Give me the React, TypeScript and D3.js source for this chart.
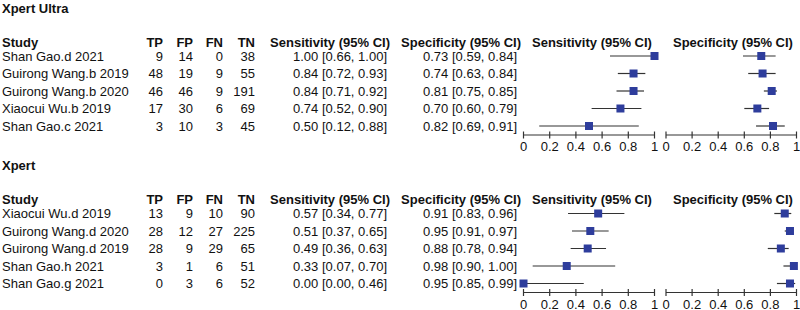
import React from "react";
import * as d3 from "d3";

// ---- Data: Xpert Ultra ----
const ultraStudies = ["Shan Gao.d 2021", "Guirong Wang.b 2019", "Guirong Wang.b 2020", "Xiaocui Wu.b 2019", "Shan Gao.c 2021"];
const ultraTP = [9, 48, 46, 17, 3];
const ultraFP = [14, 19, 46, 30, 10];
const ultraFN = [0, 9, 9, 6, 3];
const ultraTN = [38, 55, 191, 69, 45];
const ultraSens = [1.0, 0.84, 0.84, 0.74, 0.5];
const ultraSensLo = [0.66, 0.72, 0.71, 0.52, 0.12];
const ultraSensHi = [1.0, 0.93, 0.92, 0.9, 0.88];
const ultraSpec = [0.73, 0.74, 0.81, 0.7, 0.82];
const ultraSpecLo = [0.59, 0.63, 0.75, 0.6, 0.69];
const ultraSpecHi = [0.84, 0.84, 0.85, 0.79, 0.91];

// ---- Data: Xpert ----
const xpertStudies = ["Xiaocui Wu.d 2019", "Guirong Wang.d 2020", "Guirong Wang.d 2019", "Shan Gao.h 2021", "Shan Gao.g 2021"];
const xpertTP = [13, 28, 28, 3, 0];
const xpertFP = [9, 12, 9, 1, 3];
const xpertFN = [10, 27, 29, 6, 6];
const xpertTN = [90, 225, 65, 51, 52];
const xpertSens = [0.57, 0.51, 0.49, 0.33, 0.0];
const xpertSensLo = [0.34, 0.37, 0.36, 0.07, 0.0];
const xpertSensHi = [0.77, 0.65, 0.63, 0.7, 0.46];
const xpertSpec = [0.91, 0.95, 0.88, 0.98, 0.95];
const xpertSpecLo = [0.83, 0.91, 0.78, 0.9, 0.85];
const xpertSpecHi = [0.96, 0.97, 0.94, 1.0, 0.99];

const ticks = [0, 0.2, 0.4, 0.6, 0.8, 1];
const tickLabels = ["0", "0.2", "0.4", "0.6", "0.8", "1"];

const FONT = "'Liberation Sans', Arial, Helvetica, sans-serif";
const BLUE = "#2e3d9c";
const LINE = "#333333";

const sensX = d3.scaleLinear().domain([0, 1]).range([523.5, 654.5]);
const specX = d3.scaleLinear().domain([0, 1]).range([666, 796.5]);

const f2 = d3.format(".2f");

type Section = {
  title: string;
  studies: string[];
  tp: number[];
  fp: number[];
  fn: number[];
  tn: number[];
  sens: number[];
  sensLo: number[];
  sensHi: number[];
  spec: number[];
  specLo: number[];
  specHi: number[];
};

const sections: Section[] = [
  {
    title: "Xpert Ultra",
    studies: ultraStudies, tp: ultraTP, fp: ultraFP, fn: ultraFN, tn: ultraTN,
    sens: ultraSens, sensLo: ultraSensLo, sensHi: ultraSensHi,
    spec: ultraSpec, specLo: ultraSpecLo, specHi: ultraSpecHi,
  },
  {
    title: "Xpert",
    studies: xpertStudies, tp: xpertTP, fp: xpertFP, fn: xpertFN, tn: xpertTN,
    sens: xpertSens, sensLo: xpertSensLo, sensHi: xpertSensHi,
    spec: xpertSpec, specLo: xpertSpecLo, specHi: xpertSpecHi,
  },
];

const Axis = ({ x, y }: { x: d3.ScaleLinear<number, number>; y: number }) => (
  <g>
    <line x1={x(0)} x2={x(1)} y1={y} y2={y} stroke={LINE} strokeWidth={1.2} />
    {ticks.map((t, i) => (
      <g key={i}>
        <line x1={x(t)} x2={x(t)} y1={y - 3.5} y2={y + 3.5} stroke={LINE} strokeWidth={1.2} />
        <text x={x(t)} y={y + 16} textAnchor="middle" fontSize={13} fill="#111">
          {tickLabels[i]}
        </text>
      </g>
    ))}
  </g>
);

const SectionView = ({ s, oy }: { s: Section; oy: number }) => {
  const rowY = (i: number) => oy + 56 + i * 17.5;
  const base = 4.6;
  return (
    <g>
      <text x={2} y={oy + 12.5} fontWeight="bold" fontSize={13}>{s.title}</text>
      <g fontWeight="bold" fontSize={13}>
        <text x={2} y={oy + 46.5}>Study</text>
        <text x={163} y={oy + 46.5} textAnchor="end">TP</text>
        <text x={193} y={oy + 46.5} textAnchor="end">FP</text>
        <text x={223} y={oy + 46.5} textAnchor="end">FN</text>
        <text x={255} y={oy + 46.5} textAnchor="end">TN</text>
        <text x={390} y={oy + 46.5} textAnchor="end">Sensitivity (95% CI)</text>
        <text x={521} y={oy + 46.5} textAnchor="end">Specificity (95% CI)</text>
        <text x={532} y={oy + 46.5}>Sensitivity (95% CI)</text>
        <text x={673} y={oy + 46.5}>Specificity (95% CI)</text>
      </g>
      {s.studies.map((name, i) => {
        const y = rowY(i);
        return (
          <g key={name} fontSize={13}>
            <text x={2} y={y + base}>{name}</text>
            <text x={163} y={y + base} textAnchor="end">{s.tp[i]}</text>
            <text x={193} y={y + base} textAnchor="end">{s.fp[i]}</text>
            <text x={223} y={y + base} textAnchor="end">{s.fn[i]}</text>
            <text x={255} y={y + base} textAnchor="end">{s.tn[i]}</text>
            <text x={387} y={y + base} textAnchor="end">
              {`${f2(s.sens[i])} [${f2(s.sensLo[i])}, ${f2(s.sensHi[i])}]`}
            </text>
            <text x={517} y={y + base} textAnchor="end">
              {`${f2(s.spec[i])} [${f2(s.specLo[i])}, ${f2(s.specHi[i])}]`}
            </text>
            <line x1={sensX(s.sensLo[i])} x2={sensX(s.sensHi[i])} y1={y} y2={y} stroke={LINE} strokeWidth={1.2} />
            <rect x={sensX(s.sens[i]) - 4} y={y - 4} width={8} height={8} fill={BLUE} />
            <line x1={specX(s.specLo[i])} x2={specX(s.specHi[i])} y1={y} y2={y} stroke={LINE} strokeWidth={1.2} />
            <rect x={specX(s.spec[i]) - 4} y={y - 4} width={8} height={8} fill={BLUE} />
          </g>
        );
      })}
      <Axis x={sensX} y={oy + 135} />
      <Axis x={specX} y={oy + 135} />
    </g>
  );
};

export default function App() {
  return (
    <svg
      width={800}
      height={310}
      style={{ position: "absolute", left: 0, top: 0, background: "#fff" }}
      fontFamily={FONT}
      fill="#111"
    >
      <rect width={800} height={310} fill="#fff" />
      {sections.map((s, k) => (
        <SectionView key={s.title} s={s} oy={k * 157.5} />
      ))}
    </svg>
  );
}
